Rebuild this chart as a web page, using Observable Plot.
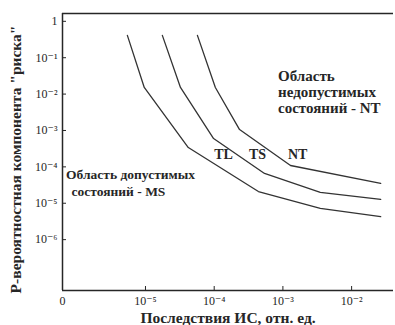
<!DOCTYPE html>
<html><head><meta charset="utf-8">
<script src="https://cdn.jsdelivr.net/npm/d3@7"></script>
<script src="https://cdn.jsdelivr.net/npm/@observablehq/plot@0.6"></script>
<style>
body{margin:0;background:#fff}
#chart svg{display:block}
</style>
</head><body><div id="chart"></div>
<script>
// Series (x: consequences, y: probability)
const seriesNames = ["TL", "TS", "NT"];
const tlX = [5.45e-6, 9.6e-6, 4.2e-5, 4.4e-4, 3.5e-3, 2.65e-2];
const tlY = [0.41, 0.0152, 3.4e-4, 2.1e-5, 7.2e-6, 4.3e-6];
const tsX = [1.76e-5, 3.23e-5, 9.8e-5, 5.4e-4, 3.5e-3, 2.65e-2];
const tsY = [0.41, 0.0152, 6.0e-4, 6.6e-5, 2.0e-5, 1.27e-5];
const ntX = [5.7e-5, 1.04e-4, 2.34e-4, 1.29e-3, 2.65e-2];
const ntY = [0.41, 0.0152, 1.06e-3, 1.09e-4, 3.5e-5];

// Ticks
const xTicks = [1e-5, 1e-4, 1e-3, 1e-2];
const xTickLabels = ["10⁻⁵", "10⁻⁴", "10⁻³", "10⁻²"];
const xZeroLabel = "0";
const yTicks = [1, 1e-1, 1e-2, 1e-3, 1e-4, 1e-5, 1e-6];
const yTickLabels = ["1", "10⁻¹", "10⁻²", "10⁻³", "10⁻⁴", "10⁻⁵", "10⁻⁶"];

// Axis extents
const xDomain = [6.2e-7, 0.0407];
const yDomain = [4.0e-8, 1.64];

// Texts
const xTitle = "Последствия ИС, отн. ед.";
const yTitle = "P-вероятностная компонента \"риска\"";
const curveLabelText = ["TL", "TS", "NT"];
const curveLabelX = [1.37e-4, 4.27e-4, 1.64e-3];
const curveLabelY = [2.19e-4, 2.19e-4, 2.19e-4];
const ntRegionText = "Область\nнедопустимых\nсостояний - NT";
const ntRegionX = 8.5e-4, ntRegionY = 0.01178;
const msRegionText = ["Область допустимых", "состояний - MS"];
const msRegionX = [7.0e-7, 8.4e-7];
const msRegionY = [6.0e-5, 2.1e-5];

const xs = [tlX, tsX, ntX], ys = [tlY, tsY, ntY];
const lineData = seriesNames.flatMap((s, k) => xs[k].map((x, i) => ({series: s, x, y: ys[k][i]})));
const xLab = new Map(xTicks.map((t, i) => [t, xTickLabels[i]]));
const yLab = new Map(yTicks.map((t, i) => [t, yTickLabels[i]]));
const curveLabels = curveLabelText.map((t, i) => ({t, x: curveLabelX[i], y: curveLabelY[i]}));
const msRegion = msRegionText.map((t, i) => ({t, x: msRegionX[i], y: msRegionY[i]}));

const ink = "#262626";
const chart = Plot.plot({
  width: 395, height: 325,
  marginLeft: 62, marginRight: 2, marginTop: 13, marginBottom: 35,
  style: {fontFamily: "'Liberation Serif', 'DejaVu Serif', serif", fontSize: "12px", color: ink, background: "#fff"},
  x: {type: "log", domain: xDomain},
  y: {type: "log", domain: yDomain},
  marks: [
    Plot.axisX(xTicks, {tickSize: -4, tickPadding: 10, tickFormat: d => xLab.get(d), label: null, fontSize: 12, stroke: ink}),
    Plot.axisY(yTicks, {tickSize: -4, tickPadding: 9, tickFormat: d => yLab.get(d), label: null, fontSize: 12, stroke: ink}),
    Plot.text([xZeroLabel], {x: () => xDomain[0], frameAnchor: "bottom", lineAnchor: "top", dy: 6, text: d => d, fontSize: 12, fill: ink}),
    Plot.ruleX([xDomain[0]], {stroke: ink, strokeWidth: 1.5}),
    Plot.ruleY([yDomain[0], yDomain[1]], {stroke: ink, strokeWidth: 1.5}),
    Plot.line(lineData, {x: "x", y: "y", z: "series", stroke: "#333", strokeWidth: 1.3}),
    Plot.text(curveLabels, {x: "x", y: "y", text: "t", fontSize: 14, fontWeight: "bold", fill: ink}),
    Plot.text([ntRegionText], {x: () => ntRegionX, y: () => ntRegionY, text: d => d, textAnchor: "start", fontSize: 15, fontWeight: "bold", lineHeight: 1.07, fill: ink}),
    Plot.text(msRegion, {x: "x", y: "y", text: "t", textAnchor: "start", fontSize: 13.5, fontWeight: "bold", fill: ink}),
    Plot.text([xTitle], {frameAnchor: "bottom", textAnchor: "middle", lineAnchor: "bottom", dy: 32, text: d => d, fontSize: 15.5, fontWeight: "bold", fill: ink}),
    Plot.text([yTitle], {frameAnchor: "left", textAnchor: "middle", rotate: -90, lineAnchor: "top", dx: -53, dy: 7.5, text: d => d, fontSize: 15.5, fontWeight: "bold", fill: ink})
  ]
});
document.getElementById("chart").append(chart);
</script>
</body></html>
